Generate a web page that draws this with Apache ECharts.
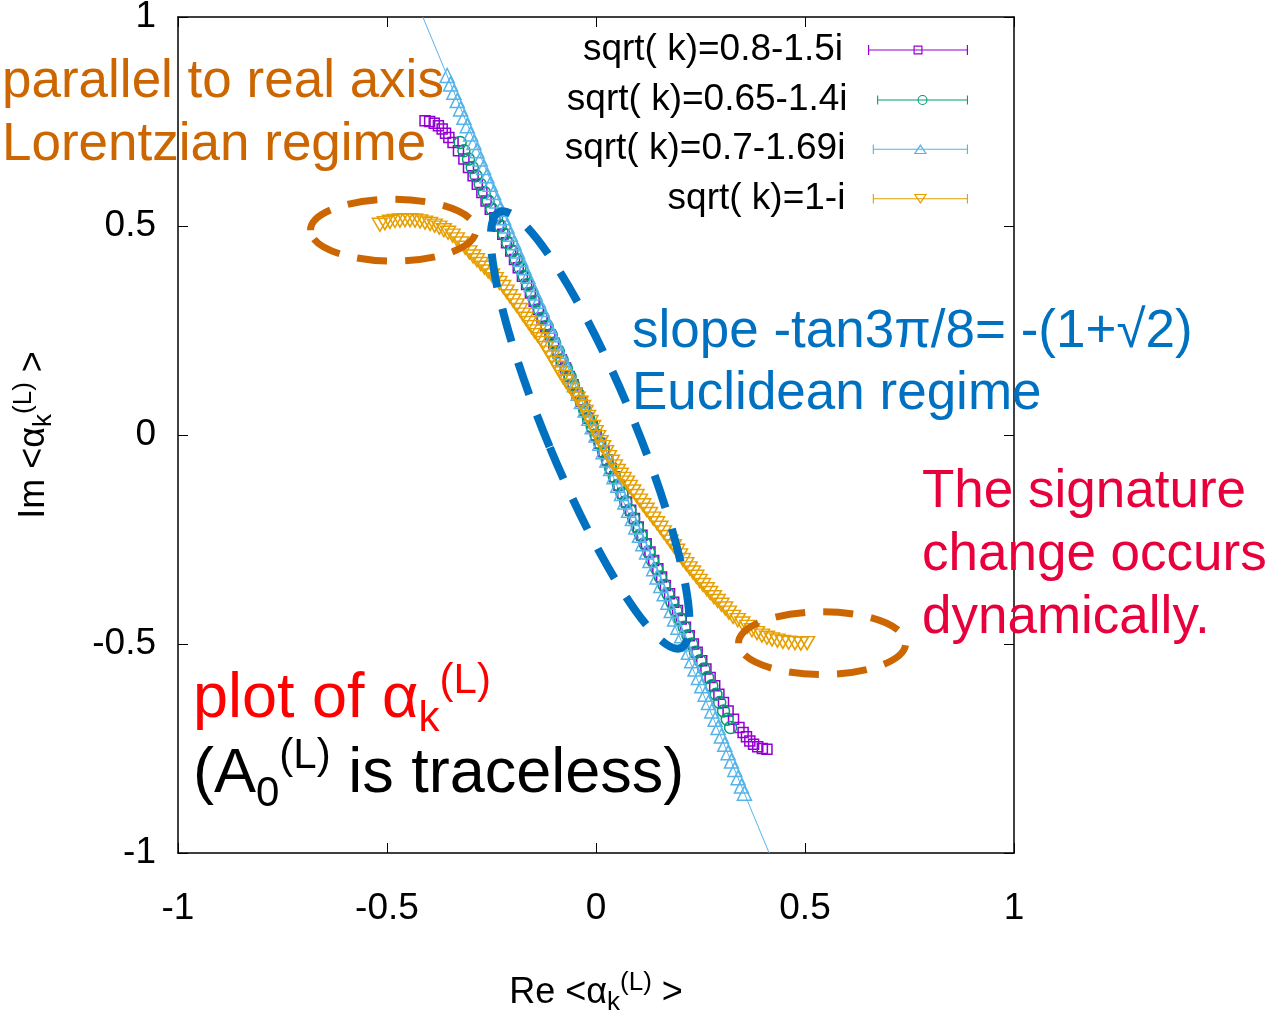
<!DOCTYPE html>
<html><head><meta charset="utf-8">
<script src="https://cdn.jsdelivr.net/npm/echarts@6/dist/echarts.min.js"></script>
<style>html,body{margin:0;padding:0;background:#fff}#c{width:1278px;height:1010px}</style>
</head><body><div id="c"></div>
<script>
// ---------------- data ----------------
const seriesNames = ['sqrt( k)=0.8-1.5i', 'sqrt( k)=0.65-1.4i', 'sqrt( k)=0.7-1.69i', 'sqrt( k)=1-i'];
const seriesColors = ['#9400d3', '#009e73', '#56b4e9', '#e69f00'];
const xTicks = [-1, -0.5, 0, 0.5, 1];
const yTicks = [-1, -0.5, 0, 0.5, 1];

const purplePts = [[-0.409,0.752],[-0.398,0.750],[-0.387,0.746],[-0.377,0.740],[-0.368,0.732],[-0.360,0.722],[-0.352,0.712],[-0.342,0.700],[-0.329,0.680],[-0.316,0.660],[-0.305,0.640],[-0.294,0.620],[-0.284,0.600],[-0.273,0.580],[-0.263,0.560],[-0.253,0.540],[-0.242,0.520],[-0.233,0.500],[-0.223,0.480],[-0.214,0.460],[-0.204,0.440],[-0.195,0.420],[-0.186,0.400],[-0.176,0.380],[-0.166,0.360],[-0.157,0.340],[-0.148,0.320],[-0.138,0.300],[-0.129,0.280],[-0.120,0.260],[-0.110,0.240],[-0.101,0.220],[-0.092,0.200],[-0.083,0.180],[-0.073,0.160],[-0.064,0.140],[-0.055,0.120],[-0.045,0.100],[-0.036,0.080],[-0.027,0.060],[-0.019,0.040],[-0.009,0.020],[0.000,0.000],[0.009,-0.020],[0.019,-0.040],[0.027,-0.060],[0.036,-0.080],[0.045,-0.100],[0.055,-0.120],[0.064,-0.140],[0.073,-0.160],[0.083,-0.180],[0.092,-0.200],[0.101,-0.220],[0.110,-0.240],[0.120,-0.260],[0.129,-0.280],[0.138,-0.300],[0.148,-0.320],[0.157,-0.340],[0.166,-0.360],[0.176,-0.380],[0.186,-0.400],[0.195,-0.420],[0.204,-0.440],[0.214,-0.460],[0.223,-0.480],[0.233,-0.500],[0.242,-0.520],[0.253,-0.540],[0.263,-0.560],[0.273,-0.580],[0.284,-0.600],[0.294,-0.620],[0.305,-0.640],[0.316,-0.660],[0.329,-0.680],[0.342,-0.700],[0.352,-0.712],[0.360,-0.722],[0.368,-0.732],[0.377,-0.740],[0.387,-0.746],[0.398,-0.750],[0.409,-0.752]];

const greenPts = [[-0.325,0.700],[-0.316,0.680],[-0.305,0.660],[-0.296,0.640],[-0.287,0.620],[-0.277,0.600],[-0.267,0.580],[-0.258,0.560],[-0.249,0.540],[-0.238,0.520],[-0.229,0.500],[-0.220,0.480],[-0.211,0.460],[-0.201,0.440],[-0.191,0.420],[-0.182,0.400],[-0.172,0.380],[-0.163,0.360],[-0.154,0.340],[-0.145,0.320],[-0.135,0.300],[-0.126,0.280],[-0.117,0.260],[-0.107,0.240],[-0.099,0.220],[-0.090,0.200],[-0.081,0.180],[-0.071,0.160],[-0.062,0.140],[-0.054,0.120],[-0.044,0.100],[-0.035,0.080],[-0.027,0.060],[-0.018,0.040],[-0.009,0.020],[0.000,0.000],[0.009,-0.020],[0.018,-0.040],[0.027,-0.060],[0.035,-0.080],[0.044,-0.100],[0.054,-0.120],[0.062,-0.140],[0.071,-0.160],[0.081,-0.180],[0.090,-0.200],[0.099,-0.220],[0.107,-0.240],[0.117,-0.260],[0.126,-0.280],[0.135,-0.300],[0.145,-0.320],[0.154,-0.340],[0.163,-0.360],[0.172,-0.380],[0.182,-0.400],[0.191,-0.420],[0.201,-0.440],[0.211,-0.460],[0.220,-0.480],[0.229,-0.500],[0.238,-0.520],[0.249,-0.540],[0.258,-0.560],[0.267,-0.580],[0.277,-0.600],[0.287,-0.620],[0.296,-0.640],[0.305,-0.660],[0.314,-0.680],[0.322,-0.700]];

const bluePts = [[-0.356,0.86],[-0.348,0.84],[-0.340,0.82],[-0.332,0.80],[-0.324,0.78],[-0.316,0.76],[-0.308,0.74],[-0.300,0.72],[-0.292,0.70],[-0.285,0.68],[-0.277,0.66],[-0.269,0.64],[-0.261,0.62],[-0.253,0.60],[-0.245,0.58],[-0.237,0.56],[-0.229,0.54],[-0.221,0.52],[-0.213,0.50],[-0.205,0.48],[-0.196,0.46],[-0.188,0.44],[-0.180,0.42],[-0.172,0.40],[-0.163,0.38],[-0.155,0.36],[-0.146,0.34],[-0.138,0.32],[-0.129,0.30],[-0.121,0.28],[-0.112,0.26],[-0.104,0.24],[-0.095,0.22],[-0.087,0.20],[-0.078,0.18],[-0.069,0.16],[-0.061,0.14],[-0.052,0.12],[-0.043,0.10],[-0.035,0.08],[-0.026,0.06],[-0.017,0.04],[-0.009,0.02],[0.000,0.00],[0.009,-0.02],[0.017,-0.04],[0.026,-0.06],[0.035,-0.08],[0.043,-0.10],[0.052,-0.12],[0.061,-0.14],[0.069,-0.16],[0.078,-0.18],[0.087,-0.20],[0.095,-0.22],[0.104,-0.24],[0.112,-0.26],[0.121,-0.28],[0.129,-0.30],[0.138,-0.32],[0.146,-0.34],[0.155,-0.36],[0.163,-0.38],[0.172,-0.40],[0.180,-0.42],[0.188,-0.44],[0.196,-0.46],[0.205,-0.48],[0.213,-0.50],[0.221,-0.52],[0.229,-0.54],[0.237,-0.56],[0.245,-0.58],[0.253,-0.60],[0.261,-0.62],[0.269,-0.64],[0.277,-0.66],[0.285,-0.68],[0.292,-0.70],[0.300,-0.72],[0.308,-0.74],[0.316,-0.76],[0.324,-0.78],[0.332,-0.80],[0.340,-0.82],[0.348,-0.84],[0.355,-0.857]];

const orangePts = [[-0.517,0.503],[-0.505,0.507],[-0.493,0.510],[-0.481,0.512],[-0.469,0.513],[-0.457,0.514],[-0.445,0.514],[-0.433,0.513],[-0.421,0.511],[-0.409,0.508],[-0.397,0.505],[-0.386,0.501],[-0.375,0.496],[-0.364,0.490],[-0.354,0.484],[-0.343,0.477],[-0.333,0.468],[-0.323,0.458],[-0.313,0.448],[-0.303,0.437],[-0.294,0.427],[-0.285,0.418],[-0.276,0.409],[-0.267,0.400],[-0.258,0.391],[-0.249,0.382],[-0.240,0.373],[-0.231,0.364],[-0.222,0.354],[-0.214,0.343],[-0.206,0.332],[-0.198,0.321],[-0.190,0.310],[-0.182,0.299],[-0.175,0.288],[-0.168,0.278],[-0.161,0.268],[-0.154,0.258],[-0.147,0.248],[-0.140,0.239],[-0.133,0.229],[-0.127,0.220],[-0.120,0.208],[-0.113,0.197],[-0.106,0.185],[-0.099,0.173],[-0.092,0.161],[-0.086,0.150],[-0.079,0.139],[-0.072,0.128],[-0.065,0.118],[-0.058,0.108],[-0.051,0.097],[-0.044,0.087],[-0.037,0.077],[-0.031,0.067],[-0.025,0.055],[-0.019,0.043],[-0.013,0.031],[-0.007,0.019],[-0.001,0.007],[0.005,-0.005],[0.011,-0.017],[0.017,-0.029],[0.024,-0.041],[0.031,-0.053],[0.038,-0.064],[0.045,-0.075],[0.052,-0.086],[0.059,-0.095],[0.066,-0.105],[0.074,-0.114],[0.081,-0.124],[0.089,-0.135],[0.097,-0.146],[0.105,-0.157],[0.113,-0.168],[0.121,-0.179],[0.129,-0.189],[0.137,-0.200],[0.146,-0.211],[0.154,-0.222],[0.162,-0.233],[0.170,-0.244],[0.178,-0.255],[0.186,-0.266],[0.194,-0.277],[0.201,-0.288],[0.208,-0.299],[0.216,-0.309],[0.224,-0.319],[0.232,-0.329],[0.240,-0.339],[0.248,-0.349],[0.256,-0.359],[0.265,-0.369],[0.273,-0.378],[0.282,-0.388],[0.291,-0.397],[0.300,-0.406],[0.309,-0.415],[0.318,-0.425],[0.328,-0.435],[0.339,-0.443],[0.350,-0.451],[0.362,-0.459],[0.373,-0.467],[0.385,-0.474],[0.397,-0.480],[0.409,-0.485],[0.421,-0.489],[0.434,-0.492],[0.447,-0.495],[0.461,-0.497],[0.476,-0.498],[0.490,-0.499],[0.505,-0.498]];

// fitted Euclidean line  y = -(1+sqrt2) x, endpoints at the frame
const slopeLineX = [-0.4142, 0.4142];
const slopeLineY = [1, -1];

// ---------------- styling ----------------
const FONT = "'Liberation Sans', Arial, sans-serif";
const symbols = ['rect', 'circle', 'triangle', 'path://M0,0L12,0L6,10Z'];
const symbolSizes = [10, 12, 14, [15, 13]];
const legendIcons = [
  'path://M0,5.4L100,5.4L100,6.6L0,6.6Z M0,1L1.2,1L1.2,11L0,11Z M98.8,1L100,1L100,11L98.8,11Z M45.5,1.5L54.5,1.5L54.5,10.5L45.5,10.5Z M46.7,2.7L46.7,9.3L53.3,9.3L53.3,2.7Z',
  'path://M0,5.4L100,5.4L100,6.6L0,6.6Z M0,1L1.2,1L1.2,11L0,11Z M98.8,1L100,1L100,11L98.8,11Z M55.5,6A5.5,5.5 0 1,1 44.5,6A5.5,5.5 0 1,1 55.5,6Z M54.3,6A4.3,4.3 0 1,0 45.7,6A4.3,4.3 0 1,0 54.3,6Z',
  'path://M0,5.4L100,5.4L100,6.6L0,6.6Z M0,1L1.2,1L1.2,11L0,11Z M98.8,1L100,1L100,11L98.8,11Z M50,0.5L57,11L43,11Z M50,3.1L45.3,9.9L54.7,9.9Z',
  'path://M0,5.4L100,5.4L100,6.6L0,6.6Z M0,1L1.2,1L1.2,11L0,11Z M98.8,1L100,1L100,11L98.8,11Z M43,1L57,1L50,11.5Z M45.2,2.1L50,9.2L54.8,2.1Z'
];
const allPts = [purplePts, greenPts, bluePts, orangePts];

const chart = echarts.init(document.getElementById('c'), null, {renderer: 'canvas'});

const legendTops = [30, 80, 129, 179];
const legends = seriesNames.map((n, i) => ({
  right: 310, top: legendTops[i], padding: 0, orient: 'horizontal', align: 'right',
  itemWidth: 100, itemHeight: 10, selectedMode: false,
  textStyle: {fontFamily: FONT, fontSize: 37, color: '#000', lineHeight: 40, padding: [0, 20, 0, 0]},
  data: [{name: n, icon: legendIcons[i], itemStyle: {color: seriesColors[i], borderWidth: 0}}]
}));

const series = [{
  type: 'line', name: 'fit', data: slopeLineX.map((x, i) => [x, slopeLineY[i]]),
  symbol: 'none', lineStyle: {color: '#56b4e9', width: 1}, silent: true, z: 1, animation: false
}].concat(allPts.map((pts, i) => ({
  type: 'scatter', name: seriesNames[i], data: pts,
  symbol: symbols[i], symbolSize: symbolSizes[i], z: 2 + i,
  itemStyle: {color: 'rgba(0,0,0,0)', borderColor: seriesColors[i], borderWidth: 1.5, opacity: 1},
  animation: false
})));

const axisCommon = {
  type: 'value', min: -1, max: 1, interval: 0.5,
  axisLine: {show: true, onZero: false, lineStyle: {color: '#000', width: 1.5}},
  axisTick: {show: true, inside: true, length: 10, lineStyle: {color: '#000', width: 1}},
  splitLine: {show: false}
};
const richName = {
  m: {fontFamily: FONT, fontSize: 36, color: '#000', lineHeight: 46},
  sub: {fontFamily: FONT, fontSize: 26, color: '#000', verticalAlign: 'bottom', lineHeight: 20},
  sup: {fontFamily: FONT, fontSize: 26, color: '#000', verticalAlign: 'top', lineHeight: 26}
};

chart.setOption({
  backgroundColor: '#fff',
  animation: false,
  grid: {left: 178, right: 264, top: 17, bottom: 157, containLabel: false, outerBoundsMode: 'none'},
  legend: legends,
  xAxis: [
    Object.assign({}, axisCommon, {position: 'bottom',
      axisLabel: {margin: 37, fontFamily: FONT, fontSize: 37, color: '#000'},
      name: '{m|Re <α}{sub|k}{sup|(L)}{m| >}', nameLocation: 'middle', nameGap: 117,
      nameTextStyle: {rich: richName}}),
    Object.assign({}, axisCommon, {position: 'top', axisLabel: {show: false}})
  ],
  yAxis: [
    Object.assign({}, axisCommon, {position: 'left',
      axisLabel: {margin: 22, fontFamily: FONT, fontSize: 37, color: '#000'},
      name: '{m|Im <α}{sub|k}{sup|(L)}{m| >}', nameLocation: 'middle', nameGap: 121, nameRotate: 90,
      nameTextStyle: {rich: richName}}),
    Object.assign({}, axisCommon, {position: 'right', axisLabel: {show: false}})
  ],
  series: series
});

// ---------------- annotations ----------------
const toPx = p => chart.convertToPixel({xAxisIndex: 0, yAxisIndex: 0}, p);
const o0 = toPx([0, 0]), o1 = toPx([1, 1]);
const sx = o1[0] - o0[0], sy = o0[1] - o1[1];
const ellipses = [
  {c: [-0.485, 0.490], rx: 0.198, ry: 0.074, color: '#cc6600', w: 7, dash: [30, 18], rot: 0},
  {c: [0.541, -0.498], rx: 0.200, ry: 0.075, color: '#cc6600', w: 7, dash: [30, 18], rot: 0},
  {c: [-0.014, 0.012], rx: 0.105, ry: 0.565, color: '#0070c0', w: 8, dash: [34, 22], rot: 0.394}
];
const g = [];
ellipses.forEach(e => {
  const c = toPx(e.c);
  g.push({type: 'ellipse', x: c[0], y: c[1], rotation: e.rot, z: 100, silent: true,
    shape: {cx: 0, cy: 0, rx: e.rx * sx, ry: e.ry * sy},
    style: {fill: null, stroke: e.color, lineWidth: e.w, lineDash: e.dash}});
});
function txt(x, y, text, color, size, rich) {
  const st = {text: text, x: x, y: y, fill: color, font: size + 'px ' + FONT, fontSize: size, fontFamily: FONT,
    align: 'left', verticalAlign: 'middle'};
  if (rich) st.rich = rich;
  g.push({type: 'text', z: 101, silent: true, style: st});
}
txt(2, 82, 'parallel to real axis', '#cc6600', 53);
txt(2, 145, 'Lorentzian regime', '#cc6600', 53);
txt(632, 332, 'slope -tan3π/8= -(1+√2)', '#0070c0', 53);
txt(632, 394, 'Euclidean regime', '#0070c0', 53);
txt(922, 492, 'The signature', '#e8003c', 53);
txt(922, 555, 'change occurs', '#e8003c', 53);
txt(922, 618, 'dynamically.', '#e8003c', 53);
const richRed = {
  a: {fontFamily: FONT, fontSize: 63, color: '#ff0000', lineHeight: 80},
  b: {fontFamily: FONT, fontSize: 42, color: '#ff0000', verticalAlign: 'bottom', lineHeight: 30},
  c: {fontFamily: FONT, fontSize: 42, color: '#ff0000', verticalAlign: 'top', lineHeight: 36}
};
const richBlk = {
  a: {fontFamily: FONT, fontSize: 63, color: '#000', lineHeight: 80},
  b: {fontFamily: FONT, fontSize: 42, color: '#000', verticalAlign: 'bottom', lineHeight: 30},
  c: {fontFamily: FONT, fontSize: 42, color: '#000', verticalAlign: 'top', lineHeight: 36}
};
txt(193, 700, '{a|plot of α}{b|k}{c|(L)}', '#ff0000', 63, richRed);
txt(193, 775, '{a|(A}{b|0}{c|(L)}{a| is traceless)}', '#000', 63, richBlk);
chart.setOption({graphic: g});
</script>
</body></html>
